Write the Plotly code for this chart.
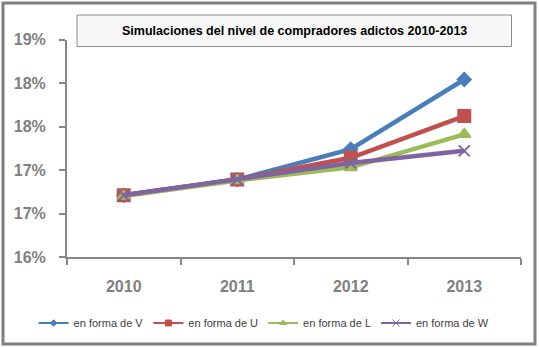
import plotly.graph_objects as go

years = ["2010", "2011", "2012", "2013"]
serie_v = [16.71, 16.89, 17.24, 18.04]
serie_u = [16.71, 16.89, 17.14, 17.62]
serie_l = [16.70, 16.88, 17.03, 17.41]
serie_w = [16.71, 16.89, 17.08, 17.22]
names = ["en forma de V", "en forma de U", "en forma de L", "en forma de W"]
colors = ["#4A7EBB", "#C0504D", "#9BBB59", "#8064A2"]
symbols = ["diamond", "square", "triangle-up", "x-thin"]
sizes = [10, 12, 11, 11]
legend_sizes = [5, 6, 6, 7]
y_ticks = [16.0, 16.5, 17.0, 17.5, 18.0, 18.5]
y_ticktext = ["16%", "17%", "17%", "18%", "18%", "19%"]
title = "Simulaciones del nivel de compradores adictos 2010-2013"

W, H = 539, 347
fig = go.Figure()
for vals, name, col, sym, sz in zip([serie_v, serie_u, serie_l, serie_w], names, colors, symbols, sizes):
    fig.add_trace(go.Scatter(
        x=years, y=vals, name=name, mode="lines+markers", showlegend=False,
        line=dict(color=col, width=4.5),
        marker=dict(symbol=sym, size=sz, color=col, line=dict(color=col, width=2)),
    ))
# legend entries with the small Excel-style legend keys
for name, col, sym, lsz in zip(names, colors, symbols, legend_sizes):
    fig.add_trace(go.Scatter(
        x=[years[0]], y=[None], name=name, mode="lines+markers", showlegend=True,
        line=dict(color=col, width=2),
        marker=dict(symbol=sym, size=lsz, color=col, line=dict(color=col, width=1)),
        hoverinfo="skip",
    ))

fig.update_layout(
    width=W, height=H, margin=dict(l=0, r=0, t=0, b=0),
    paper_bgcolor="white", plot_bgcolor="white",
    font=dict(family="Liberation Sans", color="#404040"),
    showlegend=True,
    legend=dict(orientation="h", x=0.49, xanchor="center", y=1 - 323 / H, yanchor="middle",
                font=dict(size=11, color="#404040"), itemwidth=30, tracegroupgap=0,
                itemsizing="trace", bgcolor="rgba(0,0,0,0)"),
    xaxis=dict(domain=[67 / W, 521 / W], type="category", range=[-0.5, 3.5],
               showgrid=False, zeroline=False, showline=True, linecolor="#868686", linewidth=2,
               ticks="outside", tickson="boundaries", ticklen=6, tickcolor="#868686", tickwidth=2,
               tickfont=dict(size=16, color="#7F7F7F", weight="bold"),
               ticklabelstandoff=14, automargin=False),
    yaxis=dict(domain=[1 - 257 / H, 1 - 39.5 / H], range=[16.0, 18.5],
               tickvals=y_ticks, ticktext=y_ticktext,
               showgrid=False, zeroline=False, showline=True, linecolor="#868686", linewidth=2,
               ticks="outside", ticklen=6, tickcolor="#868686", tickwidth=2,
               tickfont=dict(size=16, color="#7F7F7F", weight="bold"),
               ticklabelstandoff=10, automargin=False),
    shapes=[
        dict(type="rect", xref="paper", yref="paper", x0=3 / W, x1=535 / W, y0=1 - 344 / H, y1=1 - 3 / H,
             line=dict(color="#808080", width=3), fillcolor="rgba(0,0,0,0)", layer="above"),
        dict(type="rect", xref="paper", yref="paper", x0=77 / W, x1=511.5 / W, y0=1 - 46.5 / H, y1=1 - 15 / H,
             line=dict(color="#8C8C8C", width=1), fillcolor="#F7F7F7", layer="above"),
    ],
    annotations=[
        dict(text=title, xref="paper", yref="paper", x=294 / W, y=1 - 31 / H,
             xanchor="center", yanchor="middle", showarrow=False,
             font=dict(size=12.5, color="black", family="Liberation Sans", weight="bold")),
    ],
)

fig.write_html("out.html")
